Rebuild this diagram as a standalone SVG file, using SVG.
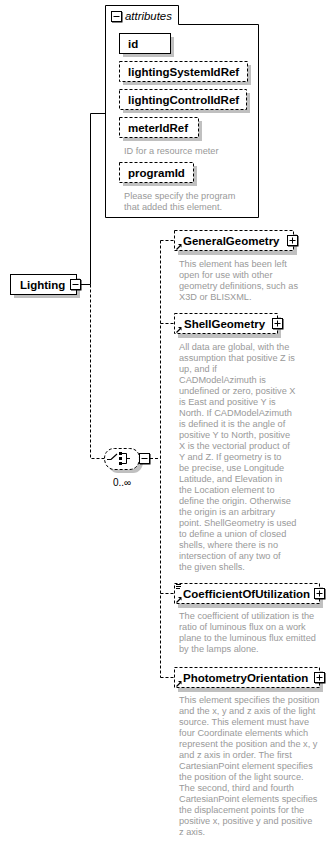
<svg xmlns="http://www.w3.org/2000/svg" xmlns:xlink="http://www.w3.org/1999/xlink" width="335" height="841" viewBox="0 0 335 841">
  <style>
    .box { fill: #fff; stroke: #000; stroke-width: 1; }
    .opt { fill: #fff; stroke: #000; stroke-width: 1; stroke-dasharray: 3 2; }
    .shadow { fill: #c0c0c0; }
    .name { font-family: "Liberation Sans", Arial, sans-serif; font-size: 11.5px; font-weight: bold; fill: #000; }
    .doc { font-family: "Liberation Sans", Arial, sans-serif; font-size: 9.2px; fill: #999; }
    .wire { fill: none; stroke: #000; stroke-width: 1; }
    .wire-opt { fill: none; stroke: #000; stroke-width: 1; stroke-dasharray: 3 2; }
  </style>
  <defs>
    <g id="btn-minus">
      <rect x="1" y="1" width="10.5" height="10.5" fill="#000"/>
      <rect x="0.5" y="0.5" width="10" height="10" fill="#fff" stroke="#000"/>
      <path d="M2.5,5.5H8.5" stroke="#000"/>
    </g>
    <g id="btn-plus">
      <rect x="1" y="1" width="10.5" height="10.5" fill="#000"/>
      <rect x="0.5" y="0.5" width="10" height="10" fill="#fff" stroke="#000"/>
      <path d="M2.5,5.5H8.5M5.5,2.5V8.5" stroke="#000"/>
    </g>
    <g id="ref-arrow">
      <path d="M0.5,5.5L4,2" stroke="#000" stroke-width="1.2"/>
      <path d="M2,0 H5.5 V3.5 Z" fill="#000"/>
    </g>
    <g id="mixed-mark">
      <path d="M0,0.5H5M0,2.5H5M0,4.5H4" stroke="#000" stroke-width="1"/>
    </g>
  </defs>

  <!-- connectors -->
  <g id="connectors">
    <path class="wire" d="M81,284.5H90.5V113.5H105"/>
    <path class="wire-opt" d="M90.5,284.5V458.5H104"/>
    <path class="wire-opt" d="M150,458.5H160.5"/>
    <path class="wire-opt" d="M160.5,240.5V677.5"/>
    <path class="wire-opt" d="M160.5,240.5H174"/>
    <path class="wire-opt" d="M160.5,323.5H174"/>
    <path class="wire-opt" d="M160.5,593.5H174"/>
    <path class="wire-opt" d="M160.5,677.5H174"/>
  </g>

  <!-- root element -->
  <g id="node-lighting">
    <rect class="shadow" x="14" y="278" width="66" height="20"/>
    <rect class="box" x="10.5" y="274.5" width="66" height="20"/>
    <text class="name" x="20" y="288.5">Lighting</text>
    <use xlink:href="#btn-minus" x="70" y="279"/>
  </g>

  <!-- attribute group -->
  <g id="node-attributes">
    <path class="box" d="M105.5,5.5H178.5V24.5H258.5V217.5H105.5Z"/>
    <use xlink:href="#btn-minus" x="111" y="11"/>
    <text x="125" y="19.5" font-family="'Liberation Sans', Arial, sans-serif" font-size="11.4" font-style="italic">attributes</text>
  </g>
  <g id="attr-id">
    <rect class="shadow" x="123" y="37" width="51" height="20"/>
    <rect class="box" x="119.5" y="33.5" width="51" height="20"/>
    <text class="name" x="128" y="47.5">id</text>
  </g>
  <g id="attr-lightingSystemIdRef">
    <rect class="shadow" x="123" y="65" width="128" height="20"/>
    <rect class="opt" x="119.5" y="61.5" width="128" height="20"/>
    <text class="name" x="128" y="75.5">lightingSystemIdRef</text>
  </g>
  <g id="attr-lightingControlIdRef">
    <rect class="shadow" x="123" y="93" width="127" height="20"/>
    <rect class="opt" x="119.5" y="89.5" width="127" height="20"/>
    <text class="name" x="128" y="103.5">lightingControlIdRef</text>
  </g>
  <g id="attr-meterIdRef">
    <rect class="shadow" x="123" y="121" width="79" height="20"/>
    <rect class="opt" x="119.5" y="117.5" width="79" height="20"/>
    <text class="name" x="128" y="131.5">meterIdRef</text>
    <text class="doc" x="124" y="153.5">ID for a resource meter</text>
  </g>
  <g id="attr-programId">
    <rect class="shadow" x="123" y="166" width="74" height="20"/>
    <rect class="opt" x="119.5" y="162.5" width="74" height="20"/>
    <text class="name" x="128" y="176.5">programId</text>
    <text class="doc" x="124" y="198.5">Please specify the program</text>
    <text class="doc" x="124" y="209.5">that added this element.</text>
  </g>

  <!-- sequence compositor -->
  <g id="node-sequence">
    <path class="shadow" d="M108,462C108,456 112,452 118,452H133C139,452 143,456 143,462C143,468 139,473 133,473H118C112,473 108,468 108,462Z"/>
    <path class="opt" d="M104.5,458.5C104.5,452.5 108.5,448.5 114.5,448.5H129.5C135.5,448.5 139.5,452.5 139.5,458.5C139.5,464.5 135.5,469.5 129.5,469.5H114.5C108.5,469.5 104.5,464.5 104.5,458.5Z"/>
    <path d="M107,459.5H111L117,454" fill="none" stroke="#000" stroke-width="1.2"/>
    <rect x="119" y="452" width="3" height="3" fill="#000"/>
    <rect x="119" y="457" width="3" height="3" fill="#000"/>
    <rect x="119" y="462" width="3" height="3" fill="#000"/>
    <path d="M122,453.5H126.5V463.5H122M126.5,458.5H130" fill="none" stroke="#000"/>
    <use xlink:href="#btn-minus" x="139" y="453"/>
    <text x="113" y="486" font-family="'Liberation Sans', Arial, sans-serif" font-size="10" fill="#000">0..∞</text>
  </g>

  <g id="node-GeneralGeometry">
    <rect class="shadow" x="178" y="234" width="119" height="21"/>
    <rect class="opt" x="174.5" y="230.5" width="119" height="20"/>
    <use xlink:href="#ref-arrow" x="176" y="244"/>
    <text class="name" x="183" y="245">GeneralGeometry</text>
    <use xlink:href="#btn-plus" x="287" y="235"/>
    <text class="doc" x="179" y="266.5">This element has been left</text>
    <text class="doc" x="179" y="277.5">open for use with other</text>
    <text class="doc" x="179" y="288.5">geometry definitions, such as</text>
    <text class="doc" x="179" y="299.5">X3D or BLISXML.</text>
  </g>

  <g id="node-ShellGeometry">
    <rect class="shadow" x="178" y="317" width="103" height="21"/>
    <rect class="opt" x="174.5" y="313.5" width="103" height="20"/>
    <use xlink:href="#ref-arrow" x="176" y="327"/>
    <text class="name" x="184" y="328">ShellGeometry</text>
    <use xlink:href="#btn-plus" x="272" y="318"/>
    <text class="doc" x="179" y="349.5">All data are global, with the</text>
    <text class="doc" x="179" y="360.5">assumption that positive Z is</text>
    <text class="doc" x="179" y="371.5">up, and if</text>
    <text class="doc" x="179" y="382.5">CADModelAzimuth is</text>
    <text class="doc" x="179" y="393.5">undefined or zero, positive X</text>
    <text class="doc" x="179" y="404.5">is East and positive Y is</text>
    <text class="doc" x="179" y="415.5">North. If CADModelAzimuth</text>
    <text class="doc" x="179" y="426.5">is defined it is the angle of</text>
    <text class="doc" x="179" y="437.5">positive Y to North, positive</text>
    <text class="doc" x="179" y="448.5">X is the vectorial product of</text>
    <text class="doc" x="179" y="459.5">Y and Z. If geometry is to</text>
    <text class="doc" x="179" y="470.5">be precise, use Longitude</text>
    <text class="doc" x="179" y="481.5">Latitude, and Elevation in</text>
    <text class="doc" x="179" y="492.5">the Location element to</text>
    <text class="doc" x="179" y="503.5">define the origin. Otherwise</text>
    <text class="doc" x="179" y="514.5">the origin is an arbitrary</text>
    <text class="doc" x="179" y="525.5">point. ShellGeometry is used</text>
    <text class="doc" x="179" y="536.5">to define a union of closed</text>
    <text class="doc" x="179" y="547.5">shells, where there is no</text>
    <text class="doc" x="179" y="558.5">intersection of any two of</text>
    <text class="doc" x="179" y="569.5">the given shells.</text>
  </g>

  <g id="node-CoefficientOfUtilization">
    <rect class="shadow" x="178" y="587" width="145" height="21"/>
    <rect class="opt" x="174.5" y="583.5" width="145" height="20"/>
    <use xlink:href="#mixed-mark" x="176" y="584"/>
    <use xlink:href="#ref-arrow" x="176" y="597"/>
    <text class="name" x="183" y="598">CoefficientOfUtilization</text>
    <use xlink:href="#btn-plus" x="314" y="588"/>
    <text class="doc" x="179" y="618.5">The coefficient of utilization is the</text>
    <text class="doc" x="179" y="629.7">ratio of luminous flux on a work</text>
    <text class="doc" x="179" y="640.9">plane to the luminous flux emitted</text>
    <text class="doc" x="179" y="652.1">by the lamps alone.</text>
  </g>

  <g id="node-PhotometryOrientation">
    <rect class="shadow" x="178" y="671" width="145" height="21"/>
    <rect class="opt" x="174.5" y="667.5" width="145" height="20"/>
    <use xlink:href="#ref-arrow" x="176" y="681"/>
    <text class="name" x="183" y="682">PhotometryOrientation</text>
    <use xlink:href="#btn-plus" x="314" y="672"/>
    <text class="doc" x="179" y="702.5">This element specifies the position</text>
    <text class="doc" x="179" y="713.5">and the x, y and z axis of the light</text>
    <text class="doc" x="179" y="724.5">source. This element must have</text>
    <text class="doc" x="179" y="735.5">four Coordinate elements which</text>
    <text class="doc" x="179" y="746.5">represent the position and the x, y</text>
    <text class="doc" x="179" y="757.5">and z axis in order. The first</text>
    <text class="doc" x="179" y="768.5">CartesianPoint element specifies</text>
    <text class="doc" x="179" y="779.5">the position of the light source.</text>
    <text class="doc" x="179" y="790.5">The second, third and fourth</text>
    <text class="doc" x="179" y="801.5">CartesianPoint elements specifies</text>
    <text class="doc" x="179" y="812.5">the displacement points for the</text>
    <text class="doc" x="179" y="823.5">positive x, positive y and positive</text>
    <text class="doc" x="179" y="834.5">z axis.</text>
  </g>
</svg>
